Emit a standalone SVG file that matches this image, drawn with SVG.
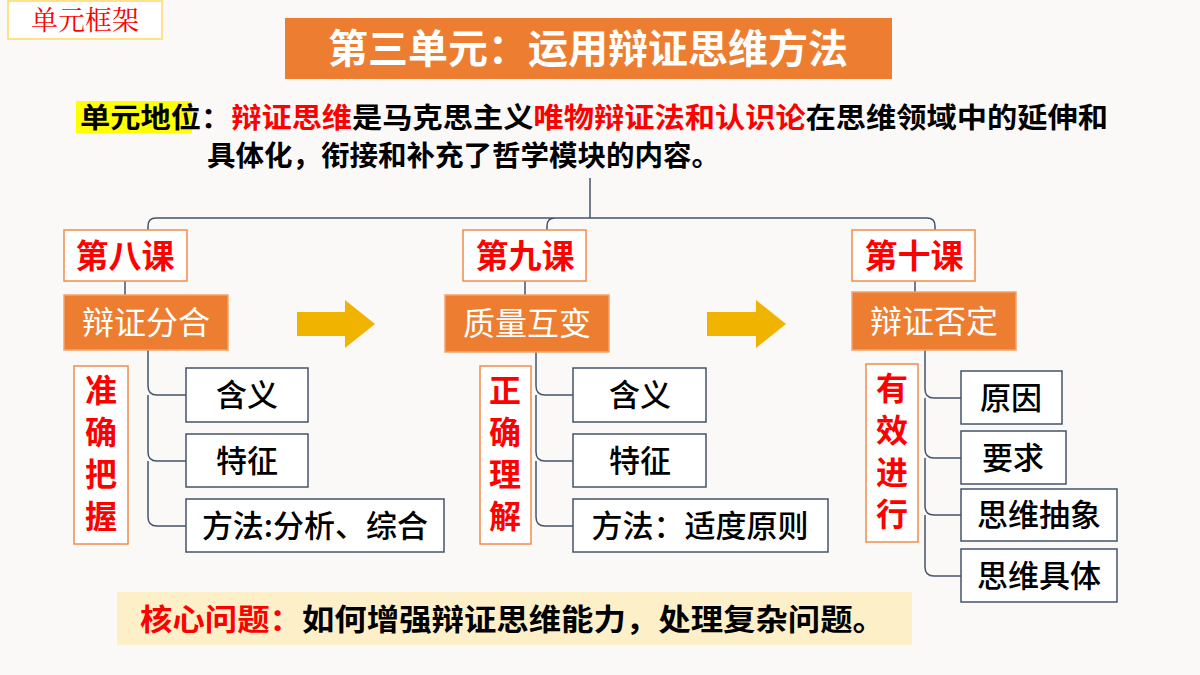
<svg xmlns="http://www.w3.org/2000/svg" width="1200" height="675" viewBox="0 0 1200 675">
<style>
text{font-family:"Noto Sans CJK SC","Noto Sans",sans-serif}
.lesson{fill:#fff;stroke:#f08c4a;stroke-width:1.5}
.lt{fill:#ff0000;font-size:33px;font-weight:bold;text-anchor:middle}
.topic{fill:#ed7d31;stroke:#f4a46c;stroke-width:1.5}
.tt{fill:#fff;font-size:32px;text-anchor:middle}
.item{fill:#fff;stroke:#44546a;stroke-width:1.5}
.it{fill:#000;font-size:31px;font-weight:500;text-anchor:middle}
.vt{fill:#ff0000;font-size:32px;font-weight:bold;text-anchor:middle}
.ln{fill:none;stroke:#44546a;stroke-width:1.5}
.arr{fill:#f0b400}
</style>
<rect width="1200" height="675" fill="#fbf9f8"/>
<g id="frame-label"><rect x="8" y="1" width="154" height="38" fill="#fff" stroke="#ffd966" stroke-width="1.5"/><text x="85" y="30" font-size="27" fill="#ff0000" text-anchor="middle" style="font-family:'Noto Serif CJK SC','Noto Sans CJK SC',serif">单元框架</text></g>
<g id="title"><rect x="285" y="18" width="607" height="61" fill="#ed7d31"/><text x="588" y="63" font-size="40" font-weight="bold" fill="#fff" text-anchor="middle">第三单元：运用辩证思维方法</text></g>
<g id="position">
<rect x="76" y="101" width="116" height="32" fill="#ffff00"/>
<text x="80" y="128" font-size="28.5" font-weight="bold" fill="#000" textLength="1028" lengthAdjust="spacingAndGlyphs">单元地位：<tspan fill="#ff0000">辩证思维</tspan>是马克思主义<tspan fill="#ff0000">唯物辩证法和认识论</tspan>在思维领域中的延伸和</text>
<text x="207" y="166" font-size="28.5" font-weight="bold" fill="#000">具体化，衔接和补充了哲学模块的内容。</text>
</g>
<g id="connectors">
<path class="ln" d="M590 178V218M156 218H927Q935 218 935 226V230M156 218Q148 218 148 226V230M555 218Q547 218 547 226V230"/>
<path class="ln" d="M125 281V295M525 281V295M915 281V292"/>
<path class="ln" d="M148 350V386Q148 395 157 395H186M148 395V452Q148 461 157 461H186M148 461V517Q148 526 157 526H186"/>
<path class="ln" d="M536 352V386Q536 395 545 395H573M536 395V452Q536 461 545 461H573M536 461V517Q536 526 545 526H573"/>
<path class="ln" d="M925 350V389Q925 398 934 398H961M925 398V449Q925 458 934 458H961M925 458V506Q925 515 934 515H961M925 515V567Q925 576 934 576H961"/>
<path class="arr" d="M297 312H345V300L375 324L345 348V336H297Z"/>
<path class="arr" d="M707 312H756V300L786 324L756 348V336H707Z"/>
</g>
<g id="l8"><rect class="lesson" x="64" y="230" width="123" height="51"/><text class="lt" x="125" y="268">第八课</text></g>
<g id="l9"><rect class="lesson" x="463" y="230" width="123" height="51"/><text class="lt" x="525" y="268">第九课</text></g>
<g id="l10"><rect class="lesson" x="852" y="230" width="123" height="51"/><text class="lt" x="914" y="268">第十课</text></g>
<g id="t8"><rect class="topic" x="64" y="295" width="164" height="55"/><text class="tt" x="146" y="334">辩证分合</text></g>
<g id="t9"><rect class="topic" x="445" y="295" width="164" height="57"/><text class="tt" x="527" y="335">质量互变</text></g>
<g id="t10"><rect class="topic" x="852" y="292" width="164" height="58"/><text class="tt" x="934" y="333">辩证否定</text></g>
<g id="v8"><rect class="lesson" x="74" y="366" width="54" height="178"/><text class="vt" x="101" y="402">准</text><text class="vt" x="101" y="444">确</text><text class="vt" x="101" y="486">把</text><text class="vt" x="101" y="528">握</text></g>
<g id="v9"><rect class="lesson" x="480" y="366" width="51" height="178"/><text class="vt" x="505" y="402">正</text><text class="vt" x="505" y="444">确</text><text class="vt" x="505" y="486">理</text><text class="vt" x="505" y="528">解</text></g>
<g id="v10"><rect class="lesson" x="866" y="364" width="52" height="178"/><text class="vt" x="892" y="400">有</text><text class="vt" x="892" y="442">效</text><text class="vt" x="892" y="484">进</text><text class="vt" x="892" y="526">行</text></g>
<g id="a1"><rect class="item" x="186" y="368" width="122" height="54"/><text class="it" x="247" y="406">含义</text></g>
<g id="a2"><rect class="item" x="186" y="434" width="122" height="53"/><text class="it" x="247" y="472">特征</text></g>
<g id="a3"><rect class="item" x="186" y="499" width="258" height="53"/><text class="it" x="315" y="537">方法:分析、综合</text></g>
<g id="b1"><rect class="item" x="573" y="368" width="133" height="54"/><text class="it" x="640" y="406">含义</text></g>
<g id="b2"><rect class="item" x="573" y="434" width="133" height="53"/><text class="it" x="640" y="472">特征</text></g>
<g id="b3"><rect class="item" x="573" y="499" width="255" height="53"/><text class="it" x="700" y="537">方法：适度原则</text></g>
<g id="c1"><rect class="item" x="961" y="371" width="101" height="53"/><text class="it" x="1011" y="409">原因</text></g>
<g id="c2"><rect class="item" x="961" y="431" width="105" height="53"/><text class="it" x="1013" y="469">要求</text></g>
<g id="c3"><rect class="item" x="961" y="489" width="156" height="52"/><text class="it" x="1039" y="526">思维抽象</text></g>
<g id="c4"><rect class="item" x="961" y="549" width="156" height="53"/><text class="it" x="1039" y="587">思维具体</text></g>
<g id="core"><rect x="117" y="592" width="795" height="53" fill="#fdefc8"/><text x="140" y="630" font-size="30" font-weight="bold" fill="#000" textLength="745" lengthAdjust="spacingAndGlyphs"><tspan fill="#ff0000">核心问题：</tspan>如何增强辩证思维能力，处理复杂问题。</text></g>
</svg>
